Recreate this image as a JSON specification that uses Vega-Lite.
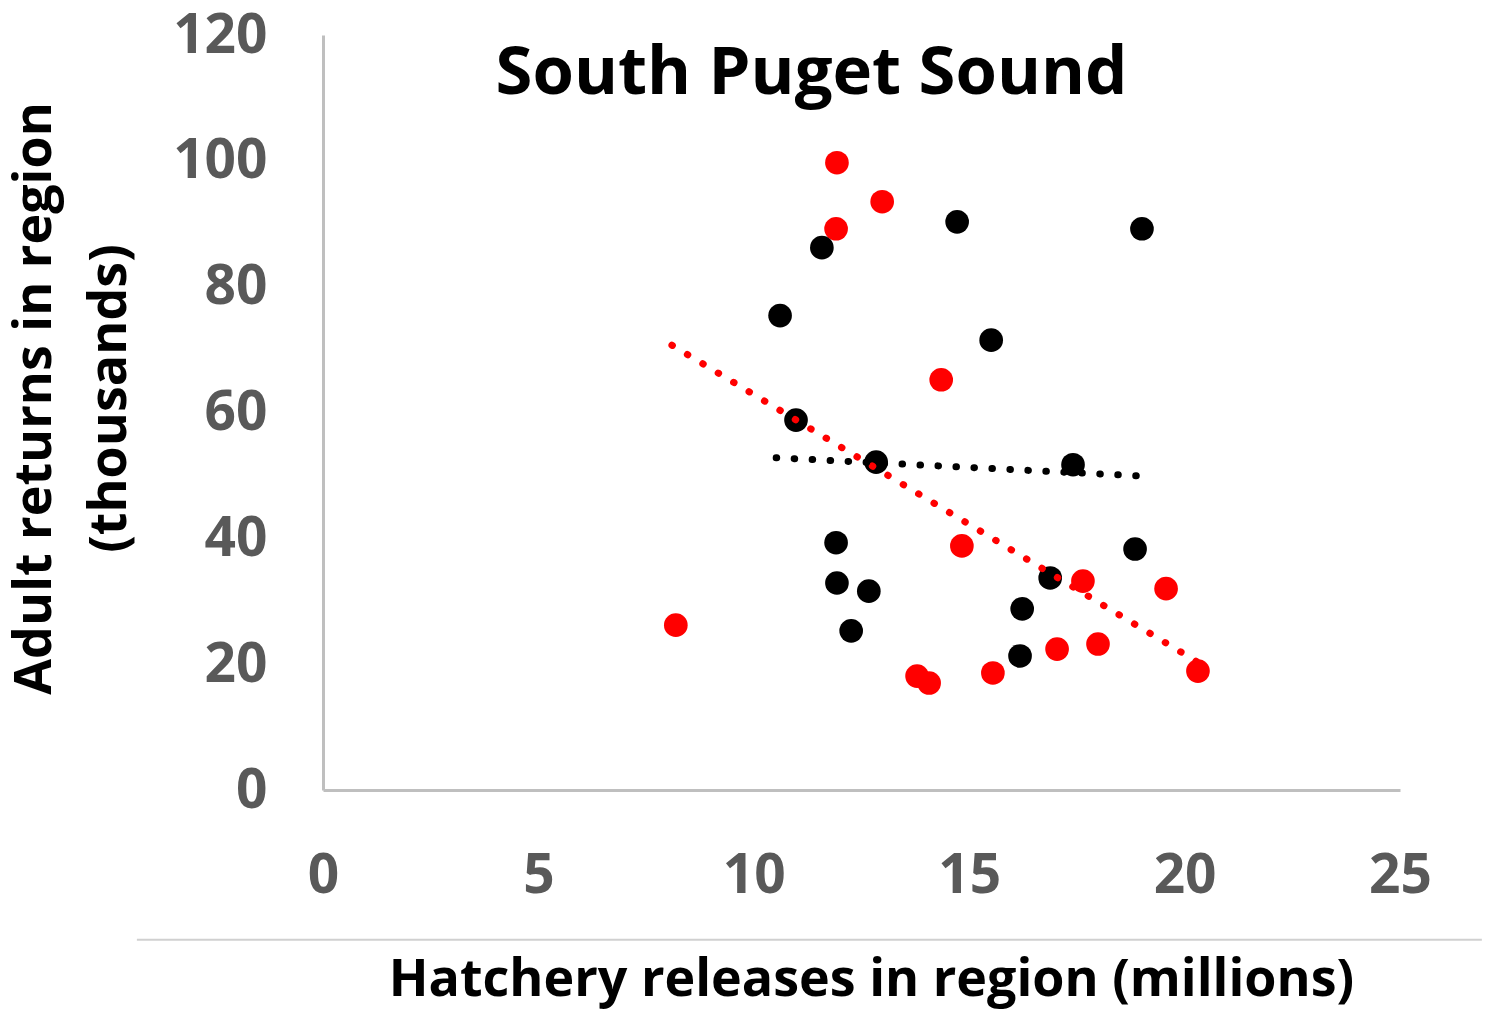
{
  "$schema": "https://vega.github.io/schema/vega-lite/v6.json",
  "width": 1077,
  "height": 755,
  "autosize": {"type": "none"},
  "padding": {"left": 323, "top": 35, "right": 85, "bottom": 219},
  "background": "white",
  "title": {
    "text": "South Puget Sound",
    "font": "Open Sans",
    "fontSize": 67,
    "fontWeight": "bold",
    "color": "black",
    "anchor": "middle",
    "dx": -50,
    "baseline": "alphabetic",
    "offset": -153
  },
  "datasets": {
    "points": [
      {"series": "red", "release": 11.93, "returns": 99.7},
      {"series": "red", "release": 12.98, "returns": 93.5},
      {"series": "red", "release": 11.91, "returns": 89.2},
      {"series": "red", "release": 14.35, "returns": 65.2},
      {"series": "red", "release": 14.83, "returns": 38.8},
      {"series": "red", "release": 17.64, "returns": 33.2},
      {"series": "red", "release": 19.57, "returns": 32.0},
      {"series": "red", "release": 8.19, "returns": 26.2},
      {"series": "red", "release": 17.04, "returns": 22.4},
      {"series": "red", "release": 17.99, "returns": 23.2},
      {"series": "red", "release": 13.79, "returns": 18.1},
      {"series": "red", "release": 14.07, "returns": 17.0},
      {"series": "red", "release": 15.55, "returns": 18.6},
      {"series": "red", "release": 20.31, "returns": 18.9},
      {"series": "black", "release": 14.72, "returns": 90.3},
      {"series": "black", "release": 19.01, "returns": 89.2},
      {"series": "black", "release": 11.58, "returns": 86.2},
      {"series": "black", "release": 10.61, "returns": 75.4},
      {"series": "black", "release": 15.51, "returns": 71.5},
      {"series": "black", "release": 10.98, "returns": 58.8},
      {"series": "black", "release": 12.84, "returns": 52.1},
      {"series": "black", "release": 17.41, "returns": 51.7},
      {"series": "black", "release": 11.91, "returns": 39.3},
      {"series": "black", "release": 18.85, "returns": 38.3},
      {"series": "black", "release": 11.93, "returns": 32.9},
      {"series": "black", "release": 16.88, "returns": 33.7},
      {"series": "black", "release": 12.67, "returns": 31.6},
      {"series": "black", "release": 16.23, "returns": 28.8},
      {"series": "black", "release": 12.26, "returns": 25.3},
      {"series": "black", "release": 16.18, "returns": 21.3}
    ],
    "trends": [
      {"series": "red", "release": 8.10, "returns": 70.7},
      {"series": "red", "release": 20.31, "returns": 20.3},
      {"series": "black", "release": 10.52, "returns": 52.8},
      {"series": "black", "release": 19.01, "returns": 49.9}
    ],
    "frame": [
      {"x0": -4.32, "x1": 26.9, "yb": -23.8}
    ]
  },
  "encoding": {
    "x": {
      "field": "release",
      "type": "quantitative",
      "scale": {"domain": [0, 25], "nice": false},
      "axis": {
        "values": [0, 5, 10, 15, 20, 25],
        "title": "Hatchery releases in region (millions)",
        "labelPadding": 59,
        "labelFlush": false,
        "titlePadding": 51,
        "titleX": 548
      }
    },
    "y": {
      "field": "returns",
      "type": "quantitative",
      "scale": {"domain": [0, 120], "nice": false},
      "axis": {
        "values": [0, 20, 40, 60, 80, 100, 120],
        "title": ["Adult returns in region", "(thousands)"],
        "labelPadding": 56,
        "labelFlush": false,
        "titlePadding": 36,
        "titleY": 363,
        "titleLineHeight": 75
      }
    }
  },
  "layer": [
    {
      "data": {"name": "frame"},
      "mark": {"type": "rule", "color": "#D0D0D0", "strokeWidth": 2, "clip": false},
      "encoding": {
        "x": {"field": "x0", "type": "quantitative"},
        "x2": {"field": "x1"},
        "y": {"field": "yb", "type": "quantitative"}
      }
    },
    {
      "data": {"name": "points"},
      "mark": {"type": "circle", "size": 560, "opacity": 1},
      "encoding": {
        "color": {
          "field": "series",
          "type": "nominal",
          "scale": {"domain": ["red", "black"], "range": ["#FF0000", "#000000"]},
          "legend": null
        }
      }
    },
    {
      "data": {"name": "trends"},
      "mark": {"type": "line", "strokeWidth": 7, "strokeDash": [0.5, 17.5], "strokeCap": "round"},
      "encoding": {
        "color": {
          "field": "series",
          "type": "nominal",
          "scale": {"domain": ["red", "black"], "range": ["#FF0000", "#000000"]},
          "legend": null
        },
        "detail": {"field": "series"}
      }
    }
  ],
  "config": {
    "view": {"stroke": null},
    "axis": {
      "grid": false,
      "ticks": false,
      "domainColor": "#BFBFBF",
      "domainWidth": 3,
      "labelFont": "Open Sans",
      "labelFontWeight": "bold",
      "labelFontSize": 55,
      "labelColor": "#595959",
      "titleFont": "Open Sans",
      "titleFontWeight": "bold",
      "titleFontSize": 52,
      "titleColor": "black"
    }
  }
}
